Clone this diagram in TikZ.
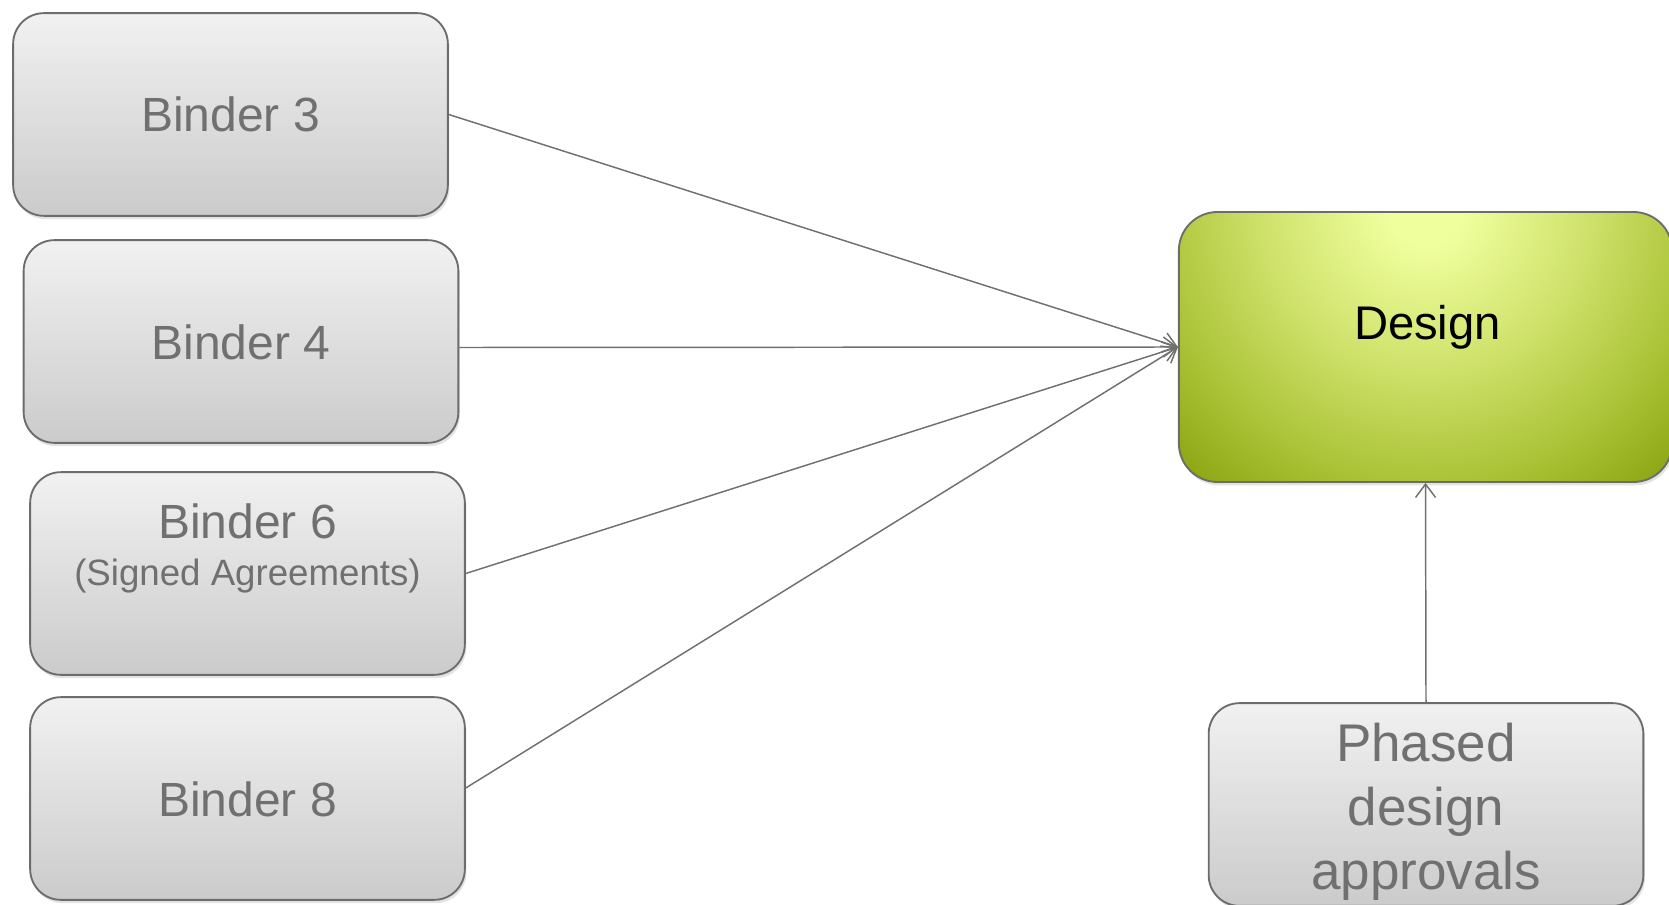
\documentclass[tikz,border=0pt]{standalone}
\usepackage{fontspec}
\setmainfont{Liberation Sans}
\usetikzlibrary{arrows.meta,shadows}
\definecolor{boxtop}{RGB}{241,241,241}
\definecolor{boxbot}{RGB}{203,203,203}
\definecolor{edgegray}{RGB}{108,108,108}
\definecolor{txtgray}{RGB}{112,112,112}
\definecolor{linegray}{RGB}{112,112,112}
\definecolor{dA}{RGB}{240,255,158}
\definecolor{dB}{RGB}{208,226,108}
\definecolor{dC}{RGB}{168,193,52}
\definecolor{dD}{RGB}{132,158,10}
\pgfdeclareradialshading{designshade}{\pgfpointorigin}{color(0bp)=(dA); color(2.5bp)=(dA); color(10.5bp)=(dB); color(18.5bp)=(dC); color(25bp)=(dD); color(50bp)=(dD)}
\tikzset{
  binder/.style={rectangle, rounded corners=23pt, draw=edgegray, line width=1.4pt,
    top color=boxtop, bottom color=boxbot, minimum width=326pt, minimum height=152pt,
    inner sep=0pt, drop shadow={shadow xshift=1.2pt, shadow yshift=-2.5pt, opacity=0.22}},
  designbox/.style={rectangle, rounded corners=29pt, draw=edgegray, line width=1.4pt,
    fill=dD, minimum width=370pt, minimum height=202.5pt, inner sep=0pt,
    drop shadow={shadow xshift=1.2pt, shadow yshift=-2.5pt, opacity=0.22},
    path picture={\shade[shading=designshade] ([yshift=4pt]path picture bounding box.north) circle (380);}},
  btext/.style={text=txtgray, font=\fontsize{36}{43}\selectfont, anchor=base, inner sep=0pt},
  stext/.style={text=txtgray, font=\fontsize{27.5}{33}\selectfont, anchor=base, inner sep=0pt},
  ptext/.style={text=txtgray, font=\fontsize{39.75}{48}\selectfont, anchor=base, inner sep=0pt, align=center},
  dtext/.style={text=black, font=\fontsize{35.4}{42}\selectfont, anchor=base, inner sep=0pt},
  conn/.style={draw=linegray, line width=1.1pt, -{Straight Barb[length=10pt,width=15pt,line width=1.1pt]}}
}
\begin{document}
\begin{tikzpicture}[x=0.75pt,y=-0.75pt]
\useasboundingbox (0,0) rectangle (1669,905);
\clip (0,0) rectangle (1669,905);
% boxes
\node[binder] (b3) at (230.5,114.5) {};
\node[binder] (b4) at (241,341.5) {};
\node[binder] (b6) at (247.5,573.5) {};
\node[binder] (b8) at (247.5,798.5) {};
\node[designbox] (d) at (1425.5,347) {};
\node[binder] (ph) at (1426,804.5) {};
% texts
\node[btext] (b3t) at (230.5,132) {Binder 3};
\node[btext] (b4t) at (241,359) {Binder 4};
\node[btext] (b6t) at (247.5,538) {Binder 6};
\node[stext] (b6s) at (247.5,585) {(Signed Agreements)};
\node[btext] (b8t) at (247.5,816) {Binder 8};
\node[dtext] (dt) at (1427.5,339.5) {Design};
\node[ptext] (pt1) at (1426,761) {Phased};
\node[ptext] (pt2) at (1426,825) {design};
\node[ptext] (pt3) at (1426,889) {approvals};
% connectors
\draw[conn] (b3.east) -- (d.west);
\draw[conn] ([yshift=-4.5pt]b4.east) -- (d.west);
\draw[conn] (b6.east) -- (d.west);
\draw[conn] ([yshift=7.9pt]b8.east) -- (d.west);
\draw[conn] (ph.north) -- (d.south);
\end{tikzpicture}
\end{document}
